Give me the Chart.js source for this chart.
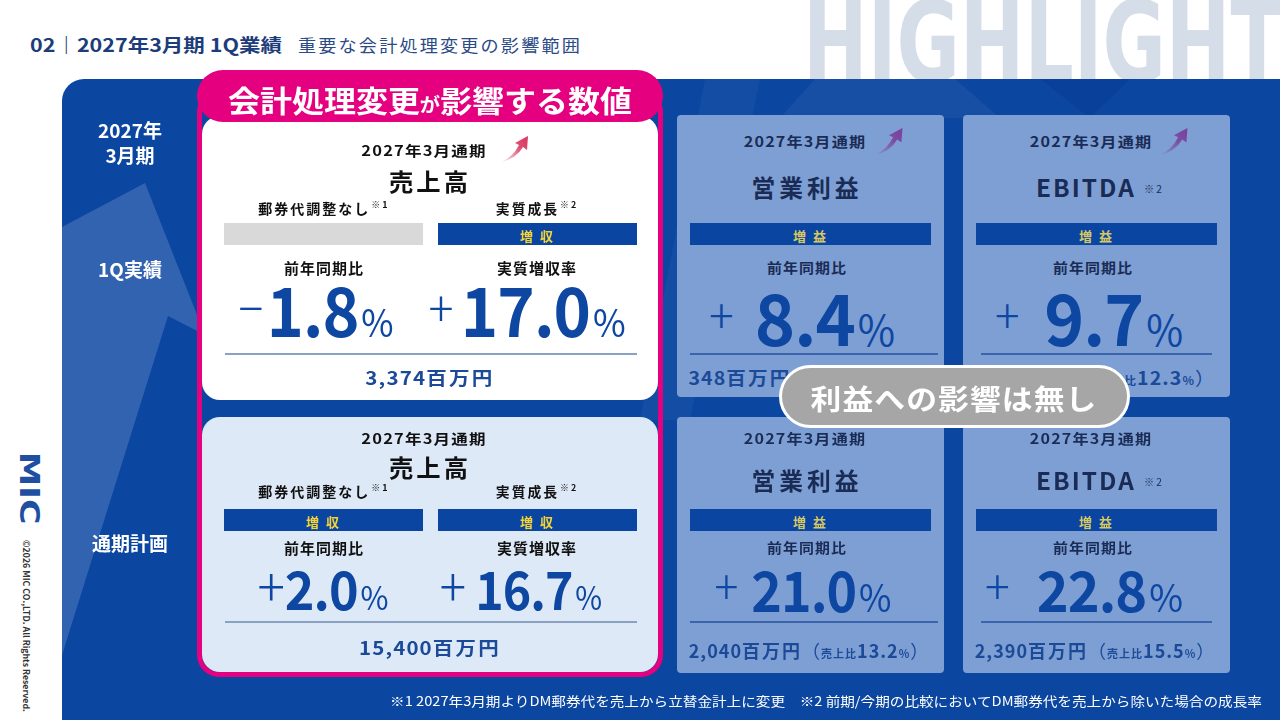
<!DOCTYPE html>
<html><head><meta charset="utf-8">
<script src="https://cdn.jsdelivr.net/npm/chart.js@4.4.1/dist/chart.umd.min.js"></script>
<style>
*{box-sizing:border-box;margin:0;padding:0}
body{width:1280px;height:720px;overflow:hidden;background:#fff;position:relative;font-family:"Noto Sans CJK JP","Noto Sans",sans-serif;}
#root{position:absolute;left:0;top:0;width:1280px;height:720px;}
</style></head><body>
<div id="root"></div>
<script>
// ---------------- data ----------------
const pageTitle = '02｜2027年3月期 1Q業績';
const pageSubtitle = '重要な会計処理変更の影響範囲';
const watermark = 'HIGHLIGHT';
const rowLabels = ['2027年', '3月期', '1Q実績', '通期計画'];
const periodLabel = '2027年3月通期';
const metricNames = ['売上高', '営業利益', 'EBITDA'];
const metricNotes = ['', '', '※2'];
const salesSubHeads = ['郵券代調整なし', '実質成長'];
const salesSubNotes = ['※1', '※2'];
const salesRateHeads = ['前年同期比', '実質増収率'];
const profitRateHead = '前年同期比';
const q1SalesYoY = [-1.8, 17.0];
const q1SalesBadges = ['', '増 収'];
const q1SalesAmount = 3374;
const planSalesYoY = [2.0, 16.7];
const planSalesBadges = ['増 収', '増 収'];
const planSalesAmount = 15400;
const q1ProfitYoY = [8.4, 9.7];
const q1ProfitAmount = [348, 415];
const q1ProfitMargin = [10.3, 12.3];
const planProfitYoY = [21.0, 22.8];
const planProfitAmount = [2040, 2390];
const planProfitMargin = [13.2, 15.5];
const profitBadge = '増 益';
const bannerParts = ['会計処理変更', 'が', '影響する数値'];
const overlayText = '利益への影響は無し';
const footnoteText = '※1 2027年3月期よりDM郵券代を売上から立替金計上に変更　※2 前期/今期の比較においてDM郵券代を売上から除いた場合の成長率';
const logoText = 'MIC';
const copyrightText = '©2026 MIC CO.,LTD. All Rights Reserved.';

// ---------------- helpers ----------------
const root = document.getElementById('root');
const fits = [];
function el(css, html){ const e=document.createElement('div'); e.style.cssText=css; if(html!=null) e.innerHTML=html; root.appendChild(e); return e; }
function box(x,y,w,h,css){ return el(`position:absolute;left:${x}px;top:${y}px;width:${w}px;height:${h}px;${css}`); }
function text(html,cx,cy,css,w,rot){
  const e = el(`position:absolute;left:${cx}px;top:${cy}px;white-space:nowrap;line-height:1;transform:translate(-50%,-50%)${rot?' rotate(90deg)':''};${css}`, html);
  if(w) fits.push([e,w,'c',rot]);
  return e;
}
function bigNum(v,cx,base,F,sF,pF,gap,w,color){
  const sign = v<0 ? '−' : '+';
  const lift = 0.365*F - 0.29*sF;
  const html = `<span style="font-size:${sF}px;font-weight:300;position:relative;top:${-lift}px">${sign}</span>`+
    `<span style="font-size:${F}px;font-weight:700;margin-left:${gap}px;letter-spacing:-1px">${Math.abs(v).toFixed(1)}</span>`+
    `<span style="font-size:${pF}px;font-weight:400;margin-left:3px">%</span>`;
  const e = el(`position:absolute;left:${cx}px;top:${base-0.936*F}px;display:flex;align-items:baseline;white-space:nowrap;line-height:1;color:${color};transform:translateX(-50%)`, html);
  fits.push([e,w,'x',false]);
}
function amountHTML(a, margin){
  let s = `${a.toLocaleString('en-US')}<span style="letter-spacing:2px">百万円</span>`;
  if(margin!=null) s += `<span style="font-weight:400">（</span><span style="font-size:11px">売上比</span>${margin.toFixed(1)}<span style="font-size:11px">%</span><span style="font-weight:400">）</span>`;
  return s;
}
function arrow(x,y,w,h,c){
  const id='g'+Math.random().toString(36).slice(2);
  el(`position:absolute;left:${x}px;top:${y}px;width:${w}px;height:${h}px`,
   `<svg width="${w}" height="${h}" viewBox="0 0 30 28"><defs><linearGradient id="${id}" x1="0" y1="1" x2="1" y2="0"><stop offset="0" stop-color="${c}" stop-opacity="0"/><stop offset="0.6" stop-color="${c}" stop-opacity="0.85"/><stop offset="1" stop-color="${c}"/></linearGradient></defs>`+
   `<path d="M1 27 Q 13 22 19 10 L 15 8 L 28 1 L 27 15 L 23 12 Q 16 24 1 27 Z" fill="url(#${id})"/></svg>`);
}
function bar(x,y,w,label,bg,fg){
  const b = box(x,y,w,22,`background:${bg};`);
  if(label) text(label, x+w/2, y+11.5, `font-size:13px;font-weight:700;color:${fg};letter-spacing:2px`);
  return b;
}
function hline(x1,x2,y,c){ box(x1,y,x2-x1,1.5,`background:${c}`); }

// ---------------- header ----------------
text(pageTitle, 156, 44, 'font-size:18px;font-weight:700;color:#1c3d7a', 252);
text(pageSubtitle, 440, 44, 'font-size:17px;font-weight:400;color:#2b4a86;letter-spacing:2px', 284);
const wm = el(`position:absolute;left:803px;top:-14px;font-family:"Liberation Sans Narrow","DejaVu Sans Condensed","Liberation Sans",sans-serif;font-weight:700;font-size:112px;line-height:1;color:#d5dde8;white-space:nowrap;transform-origin:0 0`, watermark);
fits.push([wm,480,'l',false]);

// ---------------- panel + chart.js background ----------------
const panel = box(62,79,1218,641,'background:#0b46a1;border-top-left-radius:22px;overflow:hidden');
const cv = document.createElement('canvas');
cv.width=1218; cv.height=641; cv.style.cssText='position:absolute;left:0;top:0;width:1218px;height:641px';
panel.appendChild(cv);
const decoShapes = [
  {pts:[[62,227],[145,183],[205,335],[168,316],[62,655]], c:'rgba(255,255,255,0.16)'},
  {pts:[[640,420],[705,79],[760,79],[690,420]], c:'rgba(255,255,255,0.04)'},
  {pts:[[815,79],[955,79],[1000,118],[780,118]], c:'rgba(255,255,255,0.05)'},
  {pts:[[1040,79],[1130,79],[1090,118]], c:'rgba(0,20,90,0.10)'}
];
new Chart(cv.getContext('2d'), {
  type:'scatter',
  data:{datasets: decoShapes.map(s=>({data:s.pts.map(([x,y])=>({x,y})), showLine:true, fill:'shape', backgroundColor:s.c, borderWidth:0, pointRadius:0, tension:0}))},
  options:{responsive:false, animation:false, events:[], layout:{padding:0},
    plugins:{legend:{display:false}, tooltip:{enabled:false}},
    scales:{x:{type:'linear',min:62,max:1280,display:false}, y:{type:'linear',min:79,max:720,reverse:true,display:false}}}
});

// ---------------- row labels ----------------
text(rowLabels[0], 130, 129, 'font-size:19px;font-weight:700;color:#fff');
text(rowLabels[1], 130, 154, 'font-size:19px;font-weight:700;color:#fff');
text(rowLabels[2], 130, 268, 'font-size:19px;font-weight:700;color:#fff');
text(rowLabels[3], 130, 542, 'font-size:19px;font-weight:700;color:#fff');

// ---------------- left (sales) block ----------------
box(197,90,466,587,'border:5px solid #e4007f;border-radius:22px');
box(202,116,456,284,'background:#fff;border-radius:18px');
box(202,417,456,255,'background:#dde9f7;border-radius:18px');
box(197,70,466,52,'background:#e5007f;border-radius:26px');
text(`${bannerParts[0]}<span style="font-size:19px">${bannerParts[1]}</span>${bannerParts[2]}`, 430, 99, 'font-size:30px;font-weight:700;color:#fff', 404);

const dark='#111', numBlue='#0d47a1', amtBlue='#1b4a98', barBlue='#0b45a2', yel='#f6d431';
function salesCard(top, yoy, badges, amount, cfg){
  text(periodLabel, 424, top+cfg.p, `font-size:14px;font-weight:700;color:${dark};letter-spacing:1px`, 125);
  text(metricNames[0], 430, top+cfg.m, `font-size:24px;font-weight:700;color:${dark};letter-spacing:3px`, 82);
  [324,537].forEach((cx,i)=>{
    text(`${salesSubHeads[i]}<span style="font-size:9px;position:relative;top:-6px;margin-left:1px">${salesSubNotes[i]}</span>`, cx, top+cfg.s, `font-size:14px;font-weight:700;color:${dark};letter-spacing:2px`, i?82:131);
    bar(i?438:224, top+cfg.b, 199, badges[i], badges[i]?barBlue:'#d9d9d9', yel);
    text(salesRateHeads[i], cx, top+cfg.r, `font-size:15px;font-weight:700;color:${dark};letter-spacing:1px`, 80);
  });
  cfg.nums.forEach((n,i)=>bigNum(yoy[i], n.cx, top+cfg.base, cfg.F, cfg.sF, cfg.pF, n.gap, n.w, numBlue));
  hline(225, 637, top+cfg.l, '#8aa2c2');
  text(amountHTML(amount,null), 430, top+cfg.a, `font-size:18px;font-weight:700;color:${amtBlue};letter-spacing:1px`, cfg.aw);
}
salesCard(0, q1SalesYoY, q1SalesBadges, q1SalesAmount,
  {p:150,m:181,s:208,b:223,r:267,base:338,F:68,sF:50,pF:38,l:353,a:377,aw:129,
   nums:[{cx:315.5,gap:4,w:155},{cx:526.5,gap:8,w:197}]});
salesCard(288, planSalesYoY, planSalesBadges, planSalesAmount,
  {p:150,m:179,s:203,b:221,r:259,base:322,F:53,sF:54,pF:32,l:333,a:359,aw:142,
   nums:[{cx:322.5,gap:0,w:131},{cx:521,gap:10,w:162}]});
arrow(500,135,30,28,'#d8345e');

// ---------------- right (profit) cards ----------------
const navy='#1a2c55', cardBg='#7e9fd4', yel2='#d8c862';
function profitCard(x, top, i, yoy, amount, margin, cfg){
  const cx = x + 133;
  const m = i + 1;
  box(x, top, 267, cfg.h, `background:${cardBg};border-radius:4px`);
  text(periodLabel, cx-5, top+cfg.p, `font-size:14px;font-weight:700;color:${navy};letter-spacing:1px`, 122);
  const nm = metricNotes[m] ? `${metricNames[m]}<span style="font-size:10px;font-weight:400;margin-left:8px;position:relative;top:-4px">${metricNotes[m]}</span>` : metricNames[m];
  text(nm, cx + (metricNotes[m]?4:-3), top+cfg.m, `font-size:24px;font-weight:700;color:${navy};letter-spacing:${metricNotes[m]?2:4}px`, metricNotes[m]?128:111);
  bar(x+13, top+cfg.b, 241, profitBadge, barBlue, yel2);
  text(profitRateHead, cx-3, top+cfg.r, `font-size:14px;font-weight:700;color:${navy};letter-spacing:1px`, 80);
  bigNum(yoy, cfg.ncx[i], top+cfg.base, cfg.F, cfg.sF, cfg.pF, cfg.gap[i], cfg.nw[i], numBlue);
  hline(x+(i?18:13), x+(i?249:261), top+cfg.l, '#3c64ad');
  text(amountHTML(amount, margin), cx-1, top+cfg.a, `font-size:18px;font-weight:700;color:${amtBlue};letter-spacing:1px`, 241);
}
[[677,0],[963,1]].forEach(([x,i])=>{
  profitCard(x, 115, i, q1ProfitYoY[i], q1ProfitAmount[i], q1ProfitMargin[i],
    {h:282,p:26,m:72,b:108,r:152,base:231,F:71,sF:48,pF:42,l:238,a:262,
     ncx:[802,1089],gap:[22,26],nw:[186,188]});
  profitCard(x, 417, i, planProfitYoY[i], planProfitAmount[i], planProfitMargin[i],
    {h:256,p:21,m:63,b:92,r:130,base:195,F:56,sF:48,pF:38,l:204,a:233,
     ncx:[802.5,1084],gap:[14,28],nw:[177,198]});
});
arrow(873,127,32,29,'#7b3f9c');
arrow(1158,127,32,29,'#7b3f9c');

// overlay pill
box(779,365,351,63,'background:#a6a6a6;border:3px solid #fff;border-radius:32px');
text(overlayText, 954, 398, 'font-size:28px;font-weight:700;color:#fff;letter-spacing:1px', 287);

// footnote
text(footnoteText, 826, 700, 'font-size:13px;font-weight:400;color:#fff', 872);

// left strip
text(logoText, 29, 488, 'font-family:"DejaVu Sans",sans-serif;font-size:27px;font-weight:900;color:#1e4fa1', 73, true);
text(copyrightText, 27, 626, 'font-size:8.5px;font-weight:700;color:#333', 172, true);

function applyFits(){
  fits.forEach(([e,w,mode,rot])=>{
    const ow = e.offsetWidth;
    const s = w/ow;
    if(mode==='c') e.style.transform = `translate(-50%,-50%)${rot?' rotate(90deg)':''} scaleX(${s})`;
    else if(mode==='x') e.style.transform = `translateX(-50%) scaleX(${s})`;
    else e.style.transform = `scaleX(${s})`;
  });
}
applyFits();
if(document.fonts && document.fonts.ready) document.fonts.ready.then(applyFits);
</script>
</body></html>
